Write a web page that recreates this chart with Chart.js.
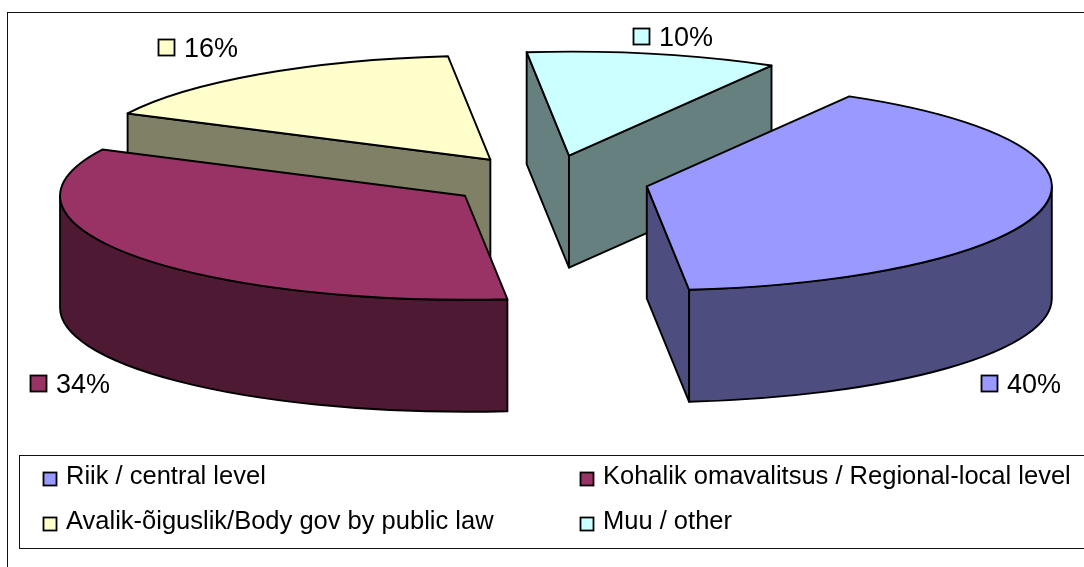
<!DOCTYPE html>
<html><head><meta charset="utf-8">
<style>html,body{margin:0;padding:0;background:#fff;overflow:hidden}#w{width:1084px;height:567px;position:relative}canvas{display:block}</style>
<script src="https://cdn.jsdelivr.net/npm/chart.js@4"></script>
</head><body><div id="w"><canvas id="c"></canvas></div>
<script>
const categories = ['Riik / central level','Kohalik omavalitsus / Regional-local level','Avalik-õiguslik/Body gov by public law','Muu / other'];
const shares = [40,34,16,10];
const topColors = ['#9999FF','#993366','#FFFFCC','#CCFFFF'];
const wallColors = ['#4D4D80','#4D1933','#808066','#668080'];
const paintOrder = [2,3,1,0];
const labelSwatchX = [981,30,158,633];
const labelSwatchY = [375,375,39,28];
const legendX = [43,580,43,580];
const legendY = [472,472,517,517];

const RX = 405, RY = 104, DEPTH = 112, CX = 548, CY = 181, EXPLODE = 101;
const FONT = '"Liberation Sans", Arial, sans-serif';

const pie3d = {
  id:'pie3d',
  beforeDatasetDraw(chart,args){
    const ctx = chart.ctx, arcs = args.meta.data;
    const k = RY/RX, T = Math.PI*2;
    paintOrder.forEach(i=>{
      const a = arcs[i];
      const s = a.startAngle, e = a.endAngle, mid=(s+e)/2;
      const ox = CX + Math.cos(mid)*EXPLODE, oy = CY + k*Math.sin(mid)*EXPLODE;
      const R = a.outerRadius;
      const px = t=>ox+Math.cos(t)*R, py = t=>oy+k*Math.sin(t)*R;
      ctx.save();
      ctx.lineJoin='round';
      ctx.lineWidth=1.9; ctx.strokeStyle='#000'; ctx.fillStyle=wallColors[i];
      // radial walls that face the viewer
      [[s,1],[e,-1]].forEach(([t,sign])=>{
        const ny = -sign*(px(t)-ox);
        if(ny<=0) return;
        ctx.beginPath();
        ctx.moveTo(ox,oy);ctx.lineTo(px(t),py(t));ctx.lineTo(px(t),py(t)+DEPTH);ctx.lineTo(ox,oy+DEPTH);ctx.closePath();
        ctx.fill();ctx.stroke();
      });
      // rim wall: the part of the arc on the near half of the ellipse
      let a0=s,a1=e;
      while(a0<0){a0+=T;a1+=T;}
      while(a0>=T){a0-=T;a1-=T;}
      let r0=Math.max(a0,0), r1=Math.min(a1,Math.PI);
      if(a1>T){r0=0;r1=Math.min(a1-T,Math.PI);}
      if(r1>r0){
        ctx.beginPath();
        ctx.ellipse(ox,oy,R,R*k,0,r0,r1,false);
        ctx.lineTo(px(r1),py(r1)+DEPTH);
        ctx.ellipse(ox,oy+DEPTH,R,R*k,0,r1,r0,true);
        ctx.closePath();ctx.fill();ctx.stroke();
      }
      // top face, drawn by the arc element under a squash transform
      ctx.save();
      ctx.translate(ox,oy);ctx.scale(1,k);ctx.translate(-a.x,-a.y);
      a.draw(ctx);
      ctx.restore();
      ctx.beginPath();
      ctx.moveTo(ox,oy);
      ctx.ellipse(ox,oy,R,R*k,0,s,e,false);
      ctx.closePath();ctx.stroke();
      ctx.restore();
    });
    return false;
  },
  afterDraw(chart){
    const ctx=chart.ctx;
    ctx.save();
    ctx.strokeStyle='#111';ctx.lineWidth=1;
    ctx.strokeRect(7.5,12.5,1200,700);
    ctx.strokeRect(19.5,455.5,1200,93);
    ctx.textBaseline='alphabetic';
    const swatch=(x,y,s,c)=>{ctx.fillStyle=c;ctx.fillRect(x,y,s,s);ctx.lineWidth=1.8;ctx.strokeStyle='#000';ctx.strokeRect(x+.5,y+.5,s-1,s-1);};
    shares.forEach((v,i)=>{
      swatch(labelSwatchX[i],labelSwatchY[i],17,topColors[i]);
      ctx.fillStyle='#000';ctx.font='27px '+FONT;
      ctx.fillText(v+'%',labelSwatchX[i]+26,labelSwatchY[i]+18);
    });
    categories.forEach((t,i)=>{
      swatch(legendX[i],legendY[i],14,topColors[i]);
      ctx.fillStyle='#000';ctx.font='25.5px '+FONT;
      ctx.fillText(t,legendX[i]+23,legendY[i]+12);
    });
    ctx.restore();
  }
};

new Chart(document.getElementById('c'),{
  type:'pie',
  data:{labels:categories,datasets:[{data:shares,backgroundColor:topColors,borderWidth:0}]},
  options:{
    responsive:true,maintainAspectRatio:false,animation:false,
    rotation:30,radius:RX,
    events:[],
    plugins:{legend:{display:false},tooltip:{enabled:false}}
  },
  plugins:[pie3d]
});
</script></body></html>
